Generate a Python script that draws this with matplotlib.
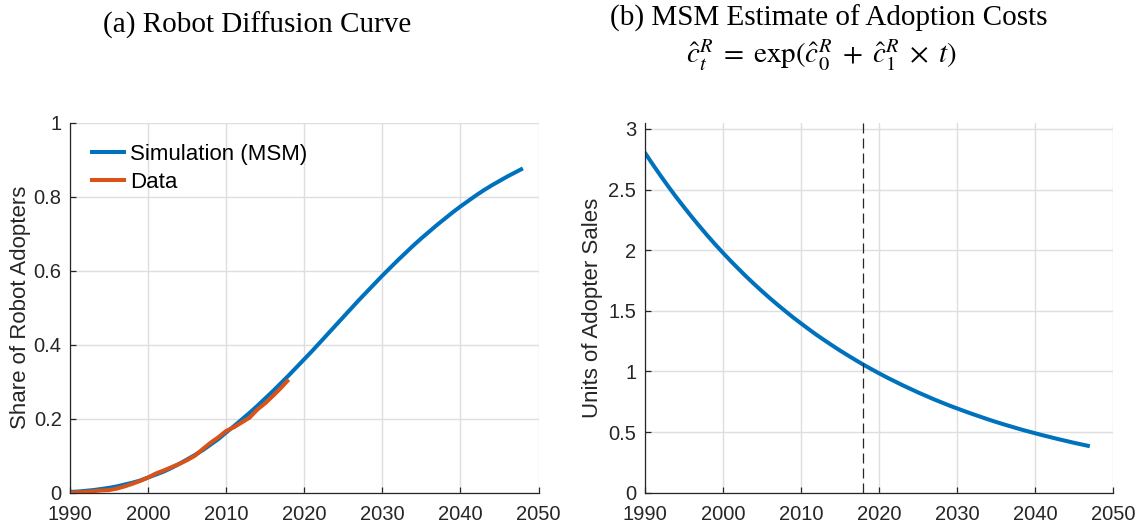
import numpy as np
import matplotlib
matplotlib.use("Agg")
import matplotlib.pyplot as plt

# データ
sim_years = list(range(1990, 2049))
sim_share = [0.002, 0.003, 0.005, 0.007, 0.010, 0.013, 0.017, 0.022, 0.027, 0.033,
             0.041, 0.049, 0.057, 0.067, 0.078, 0.090, 0.102, 0.115, 0.130, 0.145,
             0.163, 0.180, 0.198, 0.216, 0.235, 0.255, 0.275, 0.296, 0.317, 0.339,
             0.361, 0.383, 0.406, 0.429, 0.452, 0.475, 0.498, 0.521, 0.543, 0.565,
             0.587, 0.608, 0.629, 0.649, 0.669, 0.688, 0.706, 0.724, 0.741, 0.758,
             0.774, 0.789, 0.804, 0.818, 0.831, 0.843, 0.855, 0.866, 0.877]

data_years = list(range(1990, 2019))
data_share = [0.000, 0.001, 0.002, 0.004, 0.006, 0.007, 0.011, 0.017, 0.024, 0.032,
              0.041, 0.052, 0.060, 0.069, 0.078, 0.088, 0.100, 0.118, 0.135, 0.150,
              0.167, 0.177, 0.190, 0.203, 0.225, 0.242, 0.262, 0.283, 0.306]

cost_years = list(range(1990, 2048))
cost_units = [2.807, 2.711, 2.618, 2.528, 2.441, 2.358, 2.277, 2.199, 2.123, 2.050,
              1.980, 1.912, 1.847, 1.783, 1.722, 1.663, 1.606, 1.551, 1.498, 1.446,
              1.397, 1.349, 1.302, 1.258, 1.215, 1.173, 1.133, 1.094, 1.056, 1.020,
              0.985, 0.951, 0.919, 0.887, 0.857, 0.827, 0.799, 0.771, 0.745, 0.719,
              0.695, 0.671, 0.648, 0.626, 0.604, 0.583, 0.563, 0.544, 0.525, 0.507,
              0.490, 0.473, 0.457, 0.441, 0.426, 0.411, 0.397, 0.383]
estimation_end = 2018

x_ticks = [1990, 2000, 2010, 2020, 2030, 2040, 2050]
share_ticks = [0, 0.2, 0.4, 0.6, 0.8, 1]
share_labels = ["0", "0.2", "0.4", "0.6", "0.8", "1"]
cost_ticks = [0, 0.5, 1, 1.5, 2, 2.5, 3]
cost_labels = ["0", "0.5", "1", "1.5", "2", "2.5", "3"]

blue = "#0072BD"
orange = "#D95319"
axcol = "#262626"

plt.rcParams["font.family"] = ["Liberation Sans", "DejaVu Sans"]
plt.rcParams["mathtext.fontset"] = "stix"

fig = plt.figure(figsize=(11.39, 5.23), dpi=100)
ax1 = fig.add_axes([0.0615, 0.058, 0.4113, 0.707])
ax2 = fig.add_axes([0.566, 0.058, 0.4114, 0.707])


def style(ax, yticks, ylabels, ylim):
    ax.set_xlim(1990, 2050)
    ax.set_ylim(*ylim)
    ax.set_xticks(x_ticks)
    ax.set_xticklabels([str(v) for v in x_ticks])
    ax.set_yticks(yticks)
    ax.set_yticklabels(ylabels)
    ax.grid(True, color="#dedede", linewidth=1.0)
    ax.set_axisbelow(True)
    for s in ["top", "right"]:
        ax.spines[s].set_visible(False)
    for s in ["left", "bottom"]:
        ax.spines[s].set_color(axcol)
        ax.spines[s].set_linewidth(0.9)
    ax.tick_params(direction="in", length=4, width=0.9, color=axcol,
                   labelcolor=axcol, labelsize=14.5)
    ax.tick_params(axis="x", pad=9)
    ax.tick_params(axis="y", pad=6)


# (a) 普及曲線
ax1.plot(sim_years, sim_share, color=blue, lw=2.9, label="Simulation (MSM)",
         solid_capstyle="butt")
ax1.plot(data_years, data_share, color=orange, lw=2.9, label="Data",
         solid_capstyle="butt")
style(ax1, share_ticks, share_labels, (0, 1))
ax1.set_ylabel("Share of Robot Adopters", fontsize=16, color=axcol, labelpad=2)
ax1.legend(loc="upper left", frameon=False, fontsize=16, handlelength=1.6,
           handletextpad=0.2, borderaxespad=0.3, labelspacing=0.3,
           bbox_to_anchor=(0.01, 0.985))

# (b) 採用コスト
ax2.plot(cost_years, cost_units, color=blue, lw=2.9, solid_capstyle="butt")
ax2.axvline(estimation_end, color=axcol, lw=0.9, linestyle=(0, (8, 4)))
style(ax2, cost_ticks, cost_labels, (0, 3.05))
ax2.set_ylabel("Units of Adopter Sales", fontsize=16, color=axcol, labelpad=4)

fig.text(257 / 1139, 1 - 25 / 523, "(a) Robot Diffusion Curve",
         family="Liberation Serif", fontsize=21, ha="center", va="center")
fig.text(829 / 1139, 1 - 18 / 523, "(b) MSM Estimate of Adoption Costs",
         family="Liberation Serif", fontsize=21, ha="center", va="center")
fig.text(821 / 1139, 1 - 55 / 523,
         r"$\hat{c}_t^R\;=\;\mathrm{exp}(\hat{c}_0^R\;+\;\hat{c}_1^R\;\times\;t)$",
         fontsize=21, ha="center", va="center")

fig.savefig("out.png", dpi=100)
